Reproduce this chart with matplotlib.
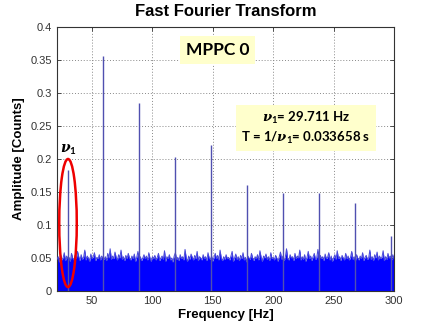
import numpy as np
import matplotlib
matplotlib.use("Agg")
import matplotlib.pyplot as plt
from matplotlib.patches import Ellipse

plt.rcParams['mathtext.fontset'] = 'custom'
plt.rcParams['mathtext.it'] = 'DejaVu Serif:italic:bold'
plt.rcParams['mathtext.rm'] = 'Lato:bold'
plt.rcParams['mathtext.bf'] = 'Lato:bold'

# ---- data ----
nu1 = 29.711
period = 0.033658
harmonic_freqs = [29.711, 59.42, 89.13, 118.84, 148.56, 178.27, 207.98, 237.69, 267.40, 297.11]
harmonic_amps = [0.183, 0.356, 0.285, 0.203, 0.221, 0.161, 0.148, 0.148, 0.134, 0.083]

noise_start_hz = 21
noise_top_milli = [
    48, 52, 44, 55, 47, 50, 58, 46, 53, 49, 51, 45, 57, 50, 47, 54, 49, 60, 52, 46,
    55, 48, 51, 62, 47, 53, 50, 45, 56, 49, 52, 58, 46, 51, 49, 55, 47, 53, 50, 48,
    52, 46, 57, 50, 64, 48, 53, 49, 59, 51, 47, 55, 50, 62, 48, 52, 46, 54, 49, 57,
    50, 47, 53, 49, 56, 45, 51, 60, 48, 52, 46, 50, 55, 49, 53, 47, 58, 50, 45, 52,
    49, 54, 47, 51, 57, 46, 50, 53, 48, 61, 45, 52, 49, 55, 47, 50, 44, 53, 58, 48,
    51, 46, 55, 49, 52, 47, 63, 50, 45, 53, 48, 56, 51, 47, 54, 49, 60, 46, 52, 50,
    47, 55, 49, 52, 46, 58, 50, 48, 53, 45, 51, 57, 49, 54, 47, 62, 50, 46, 52, 48,
    55, 49, 51, 47, 53, 60, 45, 50, 56, 48, 52, 46, 54, 49, 58, 47, 51, 44, 53, 50,
    48, 57, 50, 46, 52, 49, 55, 47, 61, 51, 45, 53, 50, 56, 48, 52, 46, 58, 49, 51,
    47, 54, 50, 45, 52, 59, 48, 53, 46, 51, 64, 49, 47, 55, 50, 52, 46, 57, 49, 53,
    50, 62, 47, 52, 48, 55, 45, 51, 60, 49, 53, 46, 52, 57, 48, 50, 63, 47, 54, 49,
    52, 46, 56, 49, 51, 58, 47, 53, 45, 50, 55, 48, 61, 49, 52, 46, 54, 50, 47, 57,
    49, 53, 47, 51, 60, 48, 52, 45, 55, 50, 47, 53, 49, 58, 46, 51, 54, 48, 50, 62,
    48, 52, 46, 55, 50, 59, 47, 53, 49, 51, 61, 46, 52, 48, 57, 50, 53, 47, 55, 49,
]

x_ticks = [50, 100, 150, 200, 250, 300]
y_ticks = [0, 0.05, 0.1, 0.15, 0.2, 0.25, 0.3, 0.35, 0.4]
y_tick_labels = ['0', '0.05', '0.1', '0.15', '0.2', '0.25', '0.3', '0.35', '0.4']

noise_freq = noise_start_hz + np.arange(len(noise_top_milli))
noise_amp = np.array(noise_top_milli) / 1000.0

# ---- figure ----
fig = plt.figure(figsize=(4.36, 3.27), dpi=100)
ax = fig.add_axes([57/436, 36/327, (394-57)/436, (291-27)/327])

ax.fill_between(noise_freq, 0, noise_amp, color='#0000ff', lw=0, zorder=2)
ax.plot(noise_freq, noise_amp, color='#4a4ad8', lw=0.7, zorder=3)
ax.vlines(harmonic_freqs, 0, harmonic_amps, color='#5050b0', lw=1.0, zorder=4)

ax.set_xlim(21, 300)
ax.set_ylim(0, 0.4)
ax.set_xticks(x_ticks)
ax.set_yticks(y_ticks)
ax.set_yticklabels(y_tick_labels)
ax.tick_params(direction='in', length=3, top=True, right=True, labelsize=8,
               labelcolor='#333333', color='#333333', width=0.6)
for lab in ax.get_xticklabels() + ax.get_yticklabels():
    lab.set_family('Liberation Sans')
ax.grid(True, linestyle=(0, (1, 2)), color='#888888', lw=0.7, zorder=1)
ax.set_axisbelow(True)
for s in ax.spines.values():
    s.set_color('#333333')
    s.set_linewidth(0.8)

ax.set_title('Fast Fourier Transform', fontsize=12, fontweight='bold',
             family='Liberation Sans', pad=8)
ax.set_xlabel('Frequency [Hz]', fontsize=9.5, fontweight='bold', family='Liberation Sans', labelpad=2)
ax.set_ylabel('Amplitude [Counts]', fontsize=9.5, fontweight='bold', family='Liberation Sans', labelpad=4)

# red ellipse around nu1
ell = Ellipse((nu1 + 0.4, 0.103), width=14.5, height=0.194, fill=False,
              edgecolor='#ee0000', lw=1.8, zorder=6)
ax.add_patch(ell)
ax.text(nu1 + 0.4, 0.203, r'$\nu_1$', ha='center', va='bottom', fontsize=10, zorder=6)

# text boxes
ax.text(0.476, 0.914, 'MPPC 0', transform=ax.transAxes, ha='center', va='center',
        fontsize=12.5, fontweight='bold', family='Lato',
        bbox=dict(boxstyle='square,pad=0.35', fc='#ffffcc', ec='none'), zorder=7)
ax.text(0.739, 0.617, r'$\nu_1$' + f'= {nu1:.3f} Hz\nT = 1/' + r'$\nu_1$' + f'= {period:.6f} s',
        transform=ax.transAxes, ha='center', va='center', fontsize=9.5,
        fontweight='bold', family='Lato', linespacing=1.3,
        bbox=dict(boxstyle='square,pad=0.4', fc='#ffffcc', ec='none'), zorder=7)

fig.savefig('out.png', dpi=100)
